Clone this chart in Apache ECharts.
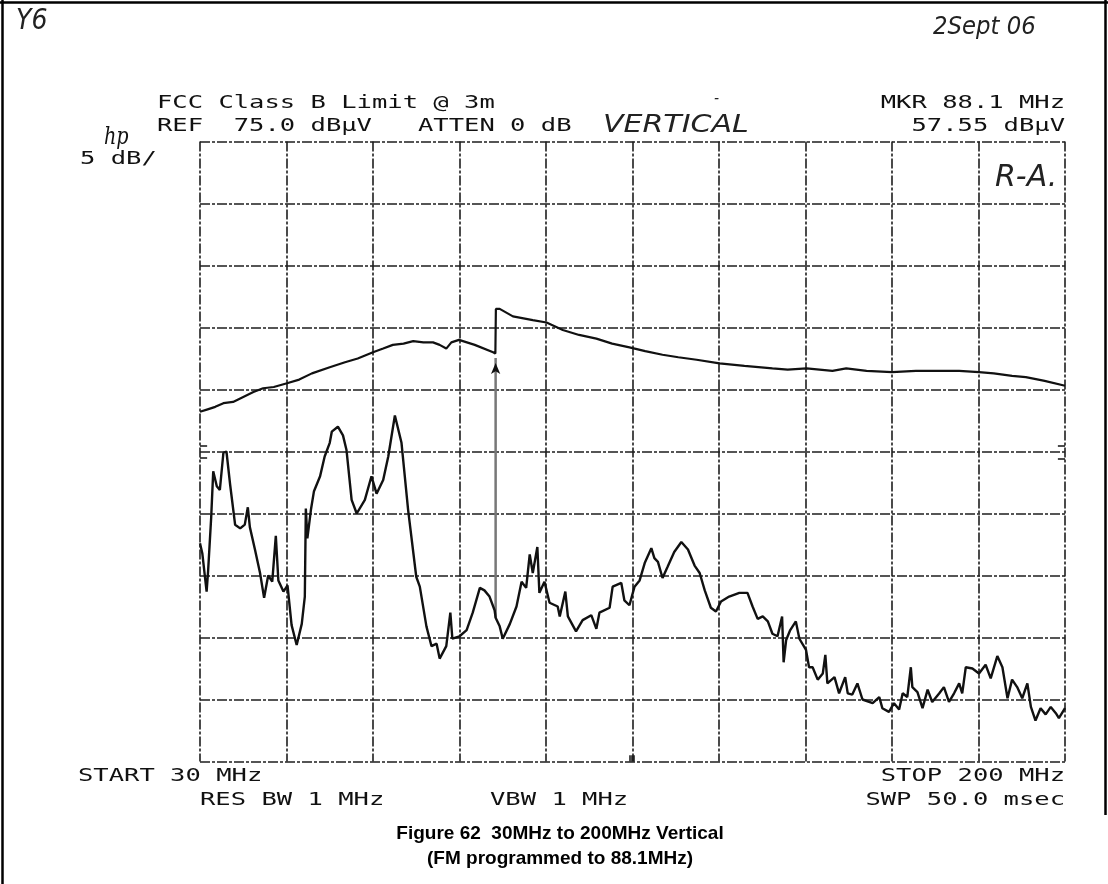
<!DOCTYPE html>
<html>
<head>
<meta charset="utf-8">
<script src="https://cdn.jsdelivr.net/npm/echarts@6/dist/echarts.min.js"></script>
<style>
  html, body { margin: 0; padding: 0; background: #fff; }
  #chart { width: 1108px; height: 884px; }
</style>
</head>
<body>
<div id="chart"></div>
<script>
// Spectrum analyser sweep: 30-200 MHz, 5 dB/div, reference level 75 dBuV
const START_MHZ = 30;
const STOP_MHZ = 200;
const REF_LEVEL = 75;
const DB_PER_DIV = 5;
const DIVISIONS = 10;

// Upper trace (dBuV)
const upperFreq = [30.0, 31.5, 33.0, 34.6, 36.5, 38.5, 40.5, 42.4, 44.5, 47.1,
  49.5, 52.0, 55.5, 58.5, 61.0, 64.0, 66.0, 67.9, 70.0, 71.9,
  73.9, 75.8, 77.1, 78.4, 79.4, 80.9, 84.0, 87.6, 88.05, 88.15,
  88.9, 91.5, 95.4, 98.1, 101.3, 104.5, 107.9, 111.0, 114.4, 117.5,
  120.9, 124.0, 127.6, 132.1, 137.0, 142.5, 145.5, 149.2, 154.3, 157.0,
  161.0, 166.0, 170.7, 175.0, 179.2, 183.1, 186.0, 189.6, 192.3, 196.0, 200.0];
const upperLevel = [53.2, 53.4, 53.6, 53.9, 54.0, 54.4, 54.8, 55.1, 55.2, 55.5,
  55.8, 56.3, 56.8, 57.2, 57.5, 58.0, 58.3, 58.6, 58.7, 58.9,
  58.8, 58.8, 58.6, 58.3, 58.8, 59.0, 58.6, 58.0, 57.9, 61.5,
  61.5, 60.9, 60.6, 60.4, 59.8, 59.4, 59.1, 58.7, 58.4, 58.1,
  57.8, 57.6, 57.4, 57.1, 56.9, 56.7, 56.6, 56.7, 56.5, 56.7,
  56.5, 56.4, 56.5, 56.5, 56.5, 56.4, 56.3, 56.1, 56.0, 55.7, 55.3];

// Lower trace (dBuV)
const lowerFreq = [30.0, 30.45, 31.3, 31.6, 32.2, 32.6, 33.3, 33.9, 34.6, 35.2,
  35.9, 36.9, 37.9, 38.8, 39.4, 39.8, 40.8, 41.8, 42.6, 43.4,
  44.2, 44.9, 45.4, 46.4, 47.2, 48.0, 49.0, 50.0, 50.6, 50.8,
  51.1, 51.8, 52.4, 53.6, 54.5, 55.5, 55.9, 57.1, 58.1, 58.8,
  59.8, 60.8, 62.4, 63.7, 64.7, 66.0, 67.0, 68.3, 69.6, 70.9,
  72.5, 73.2, 74.5, 75.5, 76.5, 77.1, 78.4, 79.2, 79.6, 81.0,
  82.4, 83.6, 85.0, 85.9, 86.9, 87.9, 88.1, 88.9,
  89.5, 90.9, 92.2, 93.2, 94.1, 94.8, 95.4, 96.3, 96.7, 97.7,
  98.7, 100.3, 100.7, 101.8, 102.3, 103.9, 105.2, 106.9, 107.9, 108.5,
  110.5, 111.1, 112.8, 113.4, 114.4, 115.4, 116.4, 117.4, 118.7, 119.3,
  120.0, 120.9, 121.9, 123.2, 124.6, 125.9, 127.2, 128.2, 129.2, 130.4,
  131.4, 132.4, 134.0, 136.0, 137.6, 138.6, 139.6, 140.6, 141.6, 142.5,
  143.5, 144.4, 144.7, 145.2, 146.0, 147.1, 147.8, 149.1, 149.7, 150.4,
  151.4, 152.4, 152.9, 153.3, 154.7, 155.6, 156.8, 157.3, 158.2, 159.2,
  160.2, 162.2, 163.5, 164.1, 165.4, 166.4, 167.4, 168.1, 169.0, 169.7,
  170.0, 171.0, 172.0, 173.0, 173.9, 175.3, 176.2, 177.2, 178.2, 179.2,
  179.8, 180.5, 181.8, 183.1, 184.4, 185.4, 186.7, 187.7, 188.7, 189.6,
  190.6, 191.6, 192.6, 193.3, 194.2, 195.2, 196.2, 197.2, 198.2, 198.8, 200.0];
const lowerLevel = [42.6, 41.8, 38.7, 40.4, 44.7, 48.4, 47.2, 46.9, 49.9, 50.0,
  47.4, 44.1, 43.8, 44.1, 45.5, 43.9, 42.1, 40.2, 38.2, 40.0,
  39.5, 43.2, 39.6, 38.7, 39.2, 36.0, 34.4, 36.1, 38.3, 45.4,
  43.0, 45.3, 46.8, 48.0, 49.6, 50.7, 51.6, 52.0, 51.3, 50.1,
  46.1, 45.0, 46.1, 48.0, 46.6, 47.7, 49.6, 52.9, 50.7, 45.3,
  39.9, 39.1, 35.9, 34.3, 34.5, 33.3, 34.3, 37.0, 34.9, 35.1,
  35.6, 37.0, 39.0, 38.8, 38.3, 37.2, 36.6, 35.9,
  34.9, 36.1, 37.5, 39.5, 39.0, 41.7, 40.2, 42.3, 38.6, 39.5,
  37.8, 37.5, 36.7, 38.7, 36.7, 35.5, 36.4, 36.8, 35.7, 37.0,
  37.4, 39.1, 39.4, 38.0, 37.6, 39.1, 39.6, 41.0, 42.2, 41.4,
  41.1, 39.8, 40.7, 41.9, 42.7, 42.1, 40.8, 40.2, 38.8, 37.4,
  37.1, 37.9, 38.3, 38.6, 38.6, 37.5, 36.5, 36.7, 36.3, 35.3,
  35.1, 36.7, 33.0, 34.8, 35.6, 36.3, 34.9, 34.0, 32.6, 32.6,
  31.6, 32.1, 33.6, 31.3, 31.8, 30.5, 31.8, 30.5, 30.4, 31.3,
  30.0, 29.7, 30.2, 29.3, 29.0, 29.7, 29.2, 30.5, 30.2, 32.6,
  31.0, 30.6, 29.3, 30.8, 29.8, 30.5, 31.0, 29.8, 30.5, 31.3,
  30.5, 32.6, 32.5, 32.1, 32.8, 31.7, 33.5, 32.6, 30.1, 31.6,
  31.0, 30.1, 31.3, 29.4, 28.3, 29.3, 28.8, 29.4, 28.9, 28.5, 29.3];

// FM carrier at the marker frequency (narrow line from the trace floor)
const carrierFreq = [88.1, 88.1];
const carrierLevel = [36.6, 57.55];

// Marker
const markerFreq = 88.1;
const markerLevel = 57.55;

// Annotation text
const headerLeft = ['FCC Class B Limit @ 3m', 'REF  75.0 dB\u00b5V   ATTEN 0 dB'];
const headerRight = ['MKR 88.1 MHz', '57.55 dB\u00b5V'];
const scaleText = '5 dB/';
const startText = 'START 30 MHz';
const stopText = 'STOP 200 MHz';
const bwTexts = ['RES BW 1 MHz', 'VBW 1 MHz', 'SWP 50.0 msec'];
const captionLines = ['Figure 62  30MHz to 200MHz Vertical', '(FM programmed to 88.1MHz)'];
const notes = { sheet: 'Y6', date: '2Sept 06', pol: 'VERTICAL', initials: 'R-A.', logo: 'hp' };

const zip = (xs, ys) => xs.map((x, i) => [x, ys[i]]);

const INK = '#111';
const gridStyle = { color: '#1e1e1e', width: 1.6, type: [10, 2, 3, 2] };

// Plotter-style lettering: monospace glyphs stretched to the plotter pitch
const HP_FONT = '17px "DejaVu Sans Mono", "Liberation Mono", monospace';
const HP_SCALE = 1.5;
function hpText(text, x, y, align) {
  return {
    type: 'text', x: x, y: y, scaleX: HP_SCALE, silent: true,
    style: { text: text, font: HP_FONT, fill: INK, textAlign: align || 'left', textVerticalAlign: 'middle' }
  };
}
function handText(text, x, y, size, scaleX) {
  return {
    type: 'text', x: x, y: y, scaleX: scaleX || 1, silent: true,
    style: {
      text: text, fill: '#222', textAlign: 'left', textVerticalAlign: 'middle',
      font: 'italic 200 ' + size + 'px "DejaVu Sans", "Noto Sans", sans-serif'
    }
  };
}
function captionText(text, y) {
  return {
    type: 'text', x: 560, y: y, silent: true,
    style: {
      text: text, fill: '#000', textAlign: 'center', textVerticalAlign: 'middle',
      font: 'bold 19px "Liberation Sans", Arial, sans-serif'
    }
  };
}

const chart = echarts.init(document.getElementById('chart'), null, { renderer: 'canvas' });

chart.setOption({
  animation: false,
  backgroundColor: '#fff',
  grid: { left: 200, top: 141.5, width: 865, height: 620, containLabel: false },
  xAxis: [
    { type: 'value', min: START_MHZ, max: STOP_MHZ, show: false },
    {
      // graticule: ten horizontal divisions
      type: 'value', min: 0, max: DIVISIONS, interval: 1, position: 'bottom',
      axisLine: { show: false }, axisTick: { show: false }, axisLabel: { show: false },
      splitLine: { show: true, showMinLine: true, showMaxLine: true, lineStyle: gridStyle }
    }
  ],
  yAxis: {
    type: 'value', min: REF_LEVEL - DIVISIONS * DB_PER_DIV, max: REF_LEVEL, interval: DB_PER_DIV,
    axisLine: { show: false }, axisTick: { show: false }, axisLabel: { show: false },
    splitLine: { show: true, showMinLine: true, showMaxLine: true, lineStyle: gridStyle }
  },
  series: [
    {
      name: 'carrier', type: 'line', xAxisIndex: 0, yAxisIndex: 0,
      data: zip(carrierFreq, carrierLevel), showSymbol: false, silent: true,
      lineStyle: { color: '#777', width: 2.5 },
      markPoint: {
        silent: true,
        data: [{ coord: [markerFreq, markerLevel], symbol: 'arrow', symbolSize: [7, 11], symbolOffset: [0, 5] }],
        itemStyle: { color: INK }, label: { show: false }
      }
    },
    {
      name: 'upper', type: 'line', xAxisIndex: 0, yAxisIndex: 0,
      data: zip(upperFreq, upperLevel), showSymbol: false, silent: true,
      lineStyle: { color: INK, width: 2.2 }
    },
    {
      name: 'lower', type: 'line', xAxisIndex: 0, yAxisIndex: 0,
      data: zip(lowerFreq, lowerLevel), showSymbol: false, silent: true,
      lineStyle: { color: INK, width: 2.4 },
      markLine: {
        silent: true, symbol: 'none', label: { show: false },
        lineStyle: { color: INK, width: 1.5, type: 'solid' },
        data: [
          [{ coord: [30, 50.5] }, { coord: [31.4, 50.5] }],
          [{ coord: [30, 49.5] }, { coord: [31.4, 49.5] }],
          [{ coord: [198.6, 50.5] }, { coord: [200, 50.5] }],
          [{ coord: [198.6, 49.4] }, { coord: [200, 49.4] }],
          [{ coord: [114.4, 25] }, { coord: [114.4, 25.5] }],
          [{ coord: [114.8, 25] }, { coord: [114.8, 25.5] }],
          [{ coord: [115.2, 25] }, { coord: [115.2, 25.5] }]
        ]
      }
    }
  ],
  graphic: [
    // page frame
    { type: 'line', silent: true, shape: { x1: 2.5, y1: 0, x2: 2.5, y2: 884 }, style: { stroke: '#000', lineWidth: 2.5 } },
    { type: 'line', silent: true, shape: { x1: 0, y1: 2.5, x2: 1108, y2: 2.5 }, style: { stroke: '#000', lineWidth: 2.5 } },
    { type: 'line', silent: true, shape: { x1: 1105.5, y1: 0, x2: 1105.5, y2: 815 }, style: { stroke: '#000', lineWidth: 2.5 } },

    hpText(headerLeft[0], 157, 104),
    hpText(headerLeft[1], 157, 127),
    hpText(headerRight[0], 1065, 104, 'right'),
    hpText(headerRight[1], 1065, 127, 'right'),
    hpText(scaleText, 80, 160),
    hpText(startText, 78, 777),
    hpText(stopText, 1065, 777, 'right'),
    hpText(bwTexts[0], 200, 801),
    hpText(bwTexts[1], 490, 801),
    hpText(bwTexts[2], 1065, 801, 'right'),

    handText(notes.sheet, 16, 22, 28, 0.9),
    handText(notes.date, 933, 28, 24, 0.95),
    handText(notes.pol, 603, 126, 24, 1.25),
    handText(notes.initials, 995, 178, 30, 1),
    handText('-', 714, 99, 14, 1),
    {
      type: 'text', x: 104, y: 138, scaleX: 0.8, silent: true,
      style: { text: notes.logo, fill: '#111', textAlign: 'left', textVerticalAlign: 'middle',
        font: 'italic 24px "DejaVu Serif", "Liberation Serif", serif' }
    },

    captionText(captionLines[0], 834),
    captionText(captionLines[1], 859)
  ]
});
</script>
</body>
</html>
